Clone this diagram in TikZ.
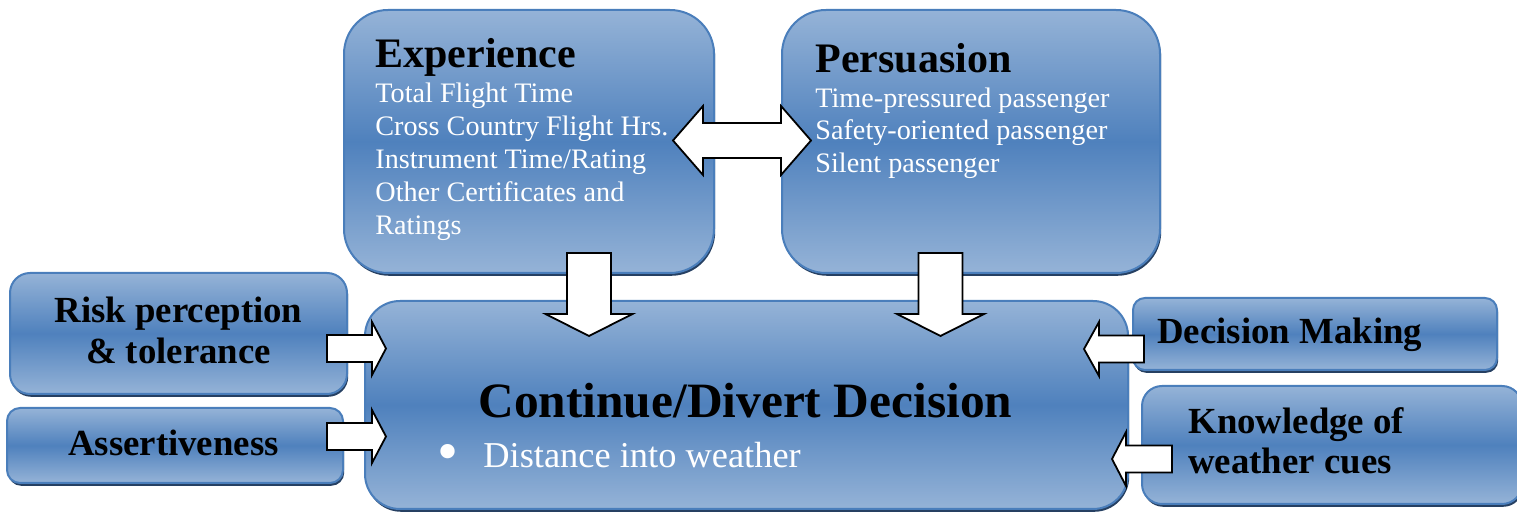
\documentclass[tikz,border=0pt]{standalone}
\usepackage{fontspec}
\setmainfont{Liberation Serif}
\usetikzlibrary{calc,shadows}
\definecolor{boxlight}{RGB}{149,179,215}
\definecolor{boxmid}{RGB}{79,129,189}
\definecolor{boxedge}{RGB}{74,126,187}
\definecolor{boxshadow}{RGB}{38,64,98}
\tikzset{
  box/.style={draw=boxedge, line width=1pt, rounded corners=#1, inner sep=0pt,
    top color=boxlight, bottom color=boxlight, middle color=boxmid,
    drop shadow={shadow xshift=0.6pt, shadow yshift=-1.4pt, fill=boxshadow, opacity=1}},
  arrowline/.style={draw=black, fill=white, line width=0.9pt, line join=miter},
  headtext/.style={inner sep=0pt, font=\bfseries\fontsize{21}{25}\selectfont},
  itemtext/.style={inner sep=0pt, text=white, font=\fontsize{14.1}{17}\selectfont},
  sidetext/.style={inner sep=0pt, font=\bfseries\fontsize{18.4}{22}\selectfont},
}
% #1 tail, #2 tip, #3 half shaft, #4 half head, #5 head length
\newcommand{\blockarrow}[5]{%
  \coordinate (ba) at ($(#2)!#5!(#1)$);
  \draw[arrowline] ($(#1)!#3!90:(#2)$) -- ($(ba)!#3!-90:(#1)$) -- ($(ba)!#4!-90:(#1)$)
    -- (#2) -- ($(ba)!#4!90:(#1)$) -- ($(ba)!#3!90:(#1)$) -- ($(#1)!#3!-90:(#2)$) -- cycle;
}
\newcommand{\twowayarrow}[5]{%
  \coordinate (da) at ($(#1)!#5!(#2)$);
  \coordinate (db) at ($(#2)!#5!(#1)$);
  \draw[arrowline] (#1) -- ($(da)!#4!90:(#2)$) -- ($(da)!#3!90:(#2)$) -- ($(db)!#3!-90:(#1)$)
    -- ($(db)!#4!-90:(#1)$) -- (#2) -- ($(db)!#4!90:(#1)$) -- ($(db)!#3!90:(#1)$)
    -- ($(da)!#3!-90:(#2)$) -- ($(da)!#4!-90:(#2)$) -- cycle;
}
\begin{document}
\begin{tikzpicture}[x=0.5pt,y=0.5pt]
\useasboundingbox (0,0) rectangle (1517,514);
% boxes
\node[box=22pt, minimum width=185pt, minimum height=131.5pt] (exp) at (529,372.5) {};
\node[box=22pt, minimum width=189pt, minimum height=131.5pt] (pers) at (971,372.5) {};
\node[box=10pt, minimum width=168.5pt, minimum height=60.5pt] (risk) at (178.5,180.5) {};
\node[box=6.5pt, minimum width=168pt, minimum height=37.5pt] (assert) at (175,68.5) {};
\node[box=17.5pt, minimum width=381.5pt, minimum height=104pt] (main) at (746.5,109) {};
\node[box=6pt, minimum width=182pt, minimum height=36pt] (dec) at (1315,180) {};
\node[box=10pt, minimum width=190pt, minimum height=59pt] (know) at (1332,69) {};
% texts
\node[headtext, anchor=base west] (exptitle) at (375,446) {Experience};
\node[itemtext, anchor=base west] (exp1) at (375,411) {Total Flight Time};
\node[itemtext, anchor=base west] (exp2) at (375,378) {Cross Country Flight Hrs.};
\node[itemtext, anchor=base west] (exp3) at (375,345) {Instrument Time/Rating};
\node[itemtext, anchor=base west] (exp4) at (375,312) {Other Certificates and};
\node[itemtext, anchor=base west] (exp5) at (375,279) {Ratings};
\node[headtext, anchor=base west] (perstitle) at (815,441) {Persuasion};
\node[itemtext, anchor=base west] (pers1) at (815,406) {Time-pressured passenger};
\node[itemtext, anchor=base west] (pers2) at (815,374) {Safety-oriented passenger};
\node[itemtext, anchor=base west] (pers3) at (815,341) {Silent passenger};
\node[sidetext, anchor=base] (risk1) at (178.5,191) {Risk perception};
\node[sidetext, anchor=base] (risk2) at (178.5,150) {\& tolerance};
\node[sidetext, anchor=base] (assert1) at (173.5,58) {Assertiveness};
\node[sidetext, anchor=base west] (dec1) at (1157,170) {Decision Making};
\node[sidetext, anchor=base west] (know1) at (1188,80) {Knowledge of};
\node[sidetext, anchor=base west] (know2) at (1188,40) {weather cues};
\node[inner sep=0pt, anchor=base west, font=\bfseries\fontsize{24.7}{29}\selectfont] (maintitle) at (478,96) {Continue/Divert Decision};
\node[itemtext, anchor=center, font=\fontsize{30}{30}\selectfont] (bullet) at (448,56) {\textbullet};
\node[itemtext, anchor=base west, font=\fontsize{18.2}{22}\selectfont] (main1) at (483,46) {Distance into weather};
% arrows
\coordinate (x1) at ($(exp.east)+(-42,1)$);
\coordinate (x2) at ($(pers.west)+(30,1)$);
\twowayarrow{x1}{x2}{8.75pt}{17.25pt}{15pt}
\coordinate (e1) at ($(exp.south)+(60,21)$);
\coordinate (e2) at ($(e1 |- main.north)+(0,-36)$);
\blockarrow{e1}{e2}{11pt}{21.75pt}{11pt}
\coordinate (p1) at ($(pers.south)+(-30.5,21)$);
\coordinate (p2) at ($(p1 |- main.north)+(0,-36)$);
\blockarrow{p1}{p2}{11pt}{21.75pt}{11pt}
\coordinate (r1) at ($(risk.east)+(-21,-15)$);
\coordinate (r2) at ($(main.west |- r1)+(22,0)$);
\blockarrow{r1}{r2}{6.75pt}{13.25pt}{7pt}
\coordinate (a1) at ($(assert.east)+(-17,9)$);
\coordinate (a2) at ($(main.west |- a1)+(22,0)$);
\blockarrow{a1}{a2}{6.75pt}{13.25pt}{7pt}
\coordinate (d1) at ($(dec.west)+(12,-15)$);
\coordinate (d2) at ($(main.east |- d1)+(-45,0)$);
\blockarrow{d1}{d2}{6.75pt}{13.5pt}{7.5pt}
\coordinate (k1) at ($(know.west)+(31,-14)$);
\coordinate (k2) at ($(main.east |- k1)+(-17,0)$);
\blockarrow{k1}{k2}{6.75pt}{13.5pt}{7pt}
\end{tikzpicture}
\end{document}
